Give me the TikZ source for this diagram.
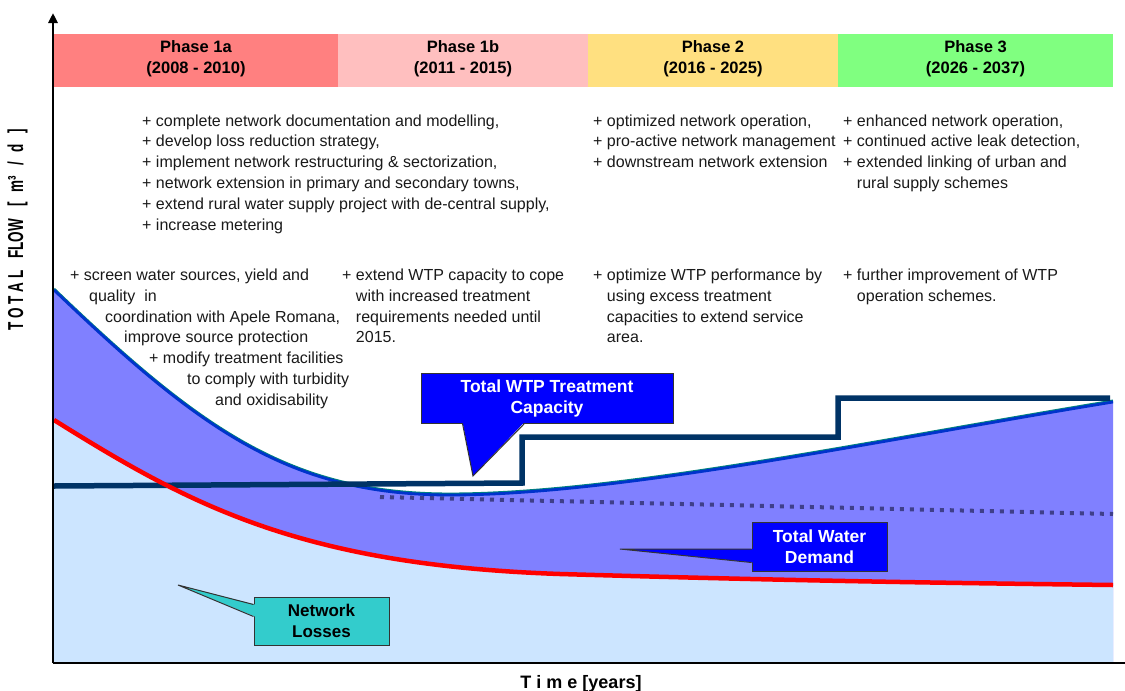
\documentclass[tikz,border=0pt]{standalone}
\usepackage{fontspec}
\setmainfont{Liberation Sans}
\usetikzlibrary{calc,arrows.meta}

\definecolor{phaseA}{HTML}{FF8080}
\definecolor{phaseB}{HTML}{FFBFBF}
\definecolor{phaseC}{HTML}{FFE080}
\definecolor{phaseD}{HTML}{80FF80}
\definecolor{lossfill}{HTML}{CCE5FF}
\definecolor{demandfill}{HTML}{8080FF}
\definecolor{capline}{HTML}{003366}
\definecolor{demline}{HTML}{0033CC}
\definecolor{demedge}{HTML}{008080}
\definecolor{dotline}{HTML}{3F3F8A}
\definecolor{lossline}{HTML}{FF0000}
\definecolor{calloutblue}{HTML}{0000FF}
\definecolor{callouttea}{HTML}{33CCCC}
\definecolor{bordergray}{HTML}{333333}
\definecolor{bodytext}{HTML}{1A1A1A}

\begin{document}
\begin{tikzpicture}[x=1pt,y=-1pt,
  txt/.style={anchor=base west,inner sep=0pt,font=\fontsize{16}{20}\selectfont,text=bodytext},
  phasebox/.style={draw=none,inner sep=0pt,minimum height=53pt},
  phasetxt/.style={anchor=base,inner sep=0pt,font=\fontsize{16.5}{20}\selectfont\bfseries},
  calloutbox/.style={draw=bordergray,line width=1pt,inner sep=0pt,align=center,
    font=\fontsize{17.5}{21}\selectfont\bfseries},
  calloutedge/.style={draw=bordergray,line width=1pt,line join=miter},
  axisline/.style={draw=black,line width=2.5pt},
  axislabel/.style={inner sep=0pt,font=\fontsize{18}{20}\selectfont\bfseries}]

\useasboundingbox (0,0) rectangle (1125,691);
\fill[white] (0,0) rectangle (1125,691);

% ---- phase header bars ----
\node[phasebox,fill=phaseA,minimum width=284pt] (phA) at (196,60.5) {};
\node[phasebox,fill=phaseB,minimum width=250pt] (phB) at (463,60.5) {};
\node[phasebox,fill=phaseC,minimum width=250pt] (phC) at (713,60.5) {};
\node[phasebox,fill=phaseD,minimum width=275pt] (phD) at (975.5,60.5) {};
\node[phasetxt] (phAt) at (196,52) {Phase 1a};
\node[phasetxt] (phAy) at (196,73) {(2008 - 2010)};
\node[phasetxt] (phBt) at (463,52) {Phase 1b};
\node[phasetxt] (phBy) at (463,73) {(2011 - 2015)};
\node[phasetxt] (phCt) at (713,52) {Phase 2};
\node[phasetxt] (phCy) at (713,73) {(2016 - 2025)};
\node[phasetxt] (phDt) at (975.5,52) {Phase 3};
\node[phasetxt] (phDy) at (975.5,73) {(2026 - 2037)};

% ---- areas: total demand (above) and network losses (below) ----
\fill[demandfill] (54,290) .. controls (200,430) and (290,495) .. (450,495)
  .. controls (620,495) and (880,440) .. (1113,402) -- (1113,662) -- (54,662) -- cycle;
\fill[lossfill] (54,420) .. controls (190,505) and (300,565) .. (560,574)
  .. controls (800,581) and (950,583) .. (1113,585) -- (1113,662) -- (54,662) -- cycle;

% reduced demand trend
\draw[dotline,line width=4pt,dash pattern=on 4pt off 6pt] (380,497) -- (1113,514);

% total water demand curve
\draw[demedge,line width=2.5pt,yshift=1.2pt] (54,290) .. controls (200,430) and (290,495) .. (450,495)
  .. controls (620,495) and (880,440) .. (1113,402);
\draw[demline,line width=2.8pt] (54,290) .. controls (200,430) and (290,495) .. (450,495)
  .. controls (620,495) and (880,440) .. (1113,402);

% treatment capacity steps
\draw[capline,line width=5.5pt,line join=miter]
  (54,486) -- (522,483) -- (522,437) -- (838,437) -- (838,398) -- (1110,398);

% network losses curve
\draw[lossline,line width=4.5pt] (54,420) .. controls (190,505) and (300,565) .. (560,574)
  .. controls (800,581) and (950,583) .. (1113,585);

% ---- axes ----
\coordinate (origin) at (53,663);
\coordinate (ytop) at (53,13);
\coordinate (xend) at (1125,663);
\draw[axisline,-{Triangle[width=9pt,length=10pt]}] (origin) -- (ytop);
\draw[axisline] (origin) -- (xend);
\node[axislabel,anchor=base] (xlab) at (581,688) {T i m e [years]};
\node[rotate=90,inner sep=0pt,font=\fontsize{13.5}{13.5}\selectfont\bfseries] (ylab) at (17.5,230)
  {\scalebox{1}[1.6]{T O T A L\hspace{12pt}FLOW\hspace{12pt}[\hspace{10pt}m³\hspace{10pt}/\hspace{10pt}d\hspace{10pt}]}};

% ---- callouts ----
\node[calloutbox,fill=calloutblue,text=white,minimum width=252pt,minimum height=50pt]
  (wtp) at (547,398) {Total WTP Treatment\\Capacity};
\coordinate (wtptip) at (473,476);
\fill[calloutblue] ($(wtp.south west)+(42,-1.5)$) -- (wtptip) -- ($(wtp.south west)+(104,-1.5)$) -- cycle;
\draw[calloutedge] ($(wtp.south west)+(42,0)$) -- (wtptip) -- ($(wtp.south west)+(104,0)$);

\node[calloutbox,fill=calloutblue,text=white,minimum width=135pt,minimum height=49pt]
  (dem) at (819.5,546.5) {Total Water\\Demand};
\coordinate (demtip) at (620,549);
\fill[calloutblue] ($(dem.north west)+(1.5,27.5)$) -- (demtip) -- ($(dem.north west)+(1.5,41)$) -- cycle;
\draw[calloutedge] ($(dem.north west)+(0,27.5)$) -- (demtip) -- ($(dem.north west)+(0,41)$);

\node[calloutbox,fill=callouttea,text=black,minimum width=135pt,minimum height=48pt,
  font=\fontsize{17}{21}\selectfont\bfseries]
  (loss) at (321.5,621) {Network\\Losses};
\coordinate (losstip) at (178,585);
\fill[callouttea] ($(loss.north west)+(1.5,8)$) -- (losstip) -- ($(loss.north west)+(1.5,20)$) -- cycle;
\draw[calloutedge] ($(loss.north west)+(0,8)$) -- (losstip) -- ($(loss.north west)+(0,20)$);

% ---- measures per phase ----
\foreach \t [count=\i] in {
  {+ complete network documentation and modelling,},
  {+ develop loss reduction strategy,},
  {+ implement network restructuring \& sectorization,},
  {+ network extension in primary and secondary towns,},
  {+ extend rural water supply project with de-central supply,},
  {+ increase metering}}
  \node[txt] (netA-\i) at (142,{126+20.8*(\i-1)}) {\t};

\foreach \t [count=\i] in {
  {+ optimized network operation,},
  {+ pro-active network management},
  {+ downstream network extension}}
  \node[txt] (netC-\i) at (593,{126+20.8*(\i-1)}) {\t};

\foreach \t [count=\i] in {
  {+ enhanced network operation,},
  {+ continued active leak detection,},
  {+ extended linking of urban and},
  {\phantom{+ }rural supply schemes}}
  \node[txt] (netD-\i) at (843,{126+20.8*(\i-1)}) {\t};

\foreach \x/\t [count=\i] in {
  70/{+ screen water sources, yield and},
  89/{quality\ \ in},
  105/{coordination with Apele Romana,},
  124/{improve source protection},
  149/{+ modify treatment facilities},
  187/{to comply with turbidity},
  215/{and oxidisability}}
  \node[txt] (srcA-\i) at (\x,{280.5+20.8*(\i-1)}) {\t};

\foreach \t [count=\i] in {
  {+ extend WTP capacity to cope},
  {\phantom{+ }with increased treatment},
  {\phantom{+ }requirements needed until},
  {\phantom{+ }2015.}}
  \node[txt] (srcB-\i) at (342,{280.5+20.8*(\i-1)}) {\t};

\foreach \t [count=\i] in {
  {+ optimize WTP performance by},
  {\phantom{+ }using excess treatment},
  {\phantom{+ }capacities to extend service},
  {\phantom{+ }area.}}
  \node[txt] (srcC-\i) at (593,{280.5+20.8*(\i-1)}) {\t};

\foreach \t [count=\i] in {
  {+ further improvement of WTP},
  {\phantom{+ }operation schemes.}}
  \node[txt] (srcD-\i) at (843,{280.5+20.8*(\i-1)}) {\t};

\end{tikzpicture}
\end{document}
